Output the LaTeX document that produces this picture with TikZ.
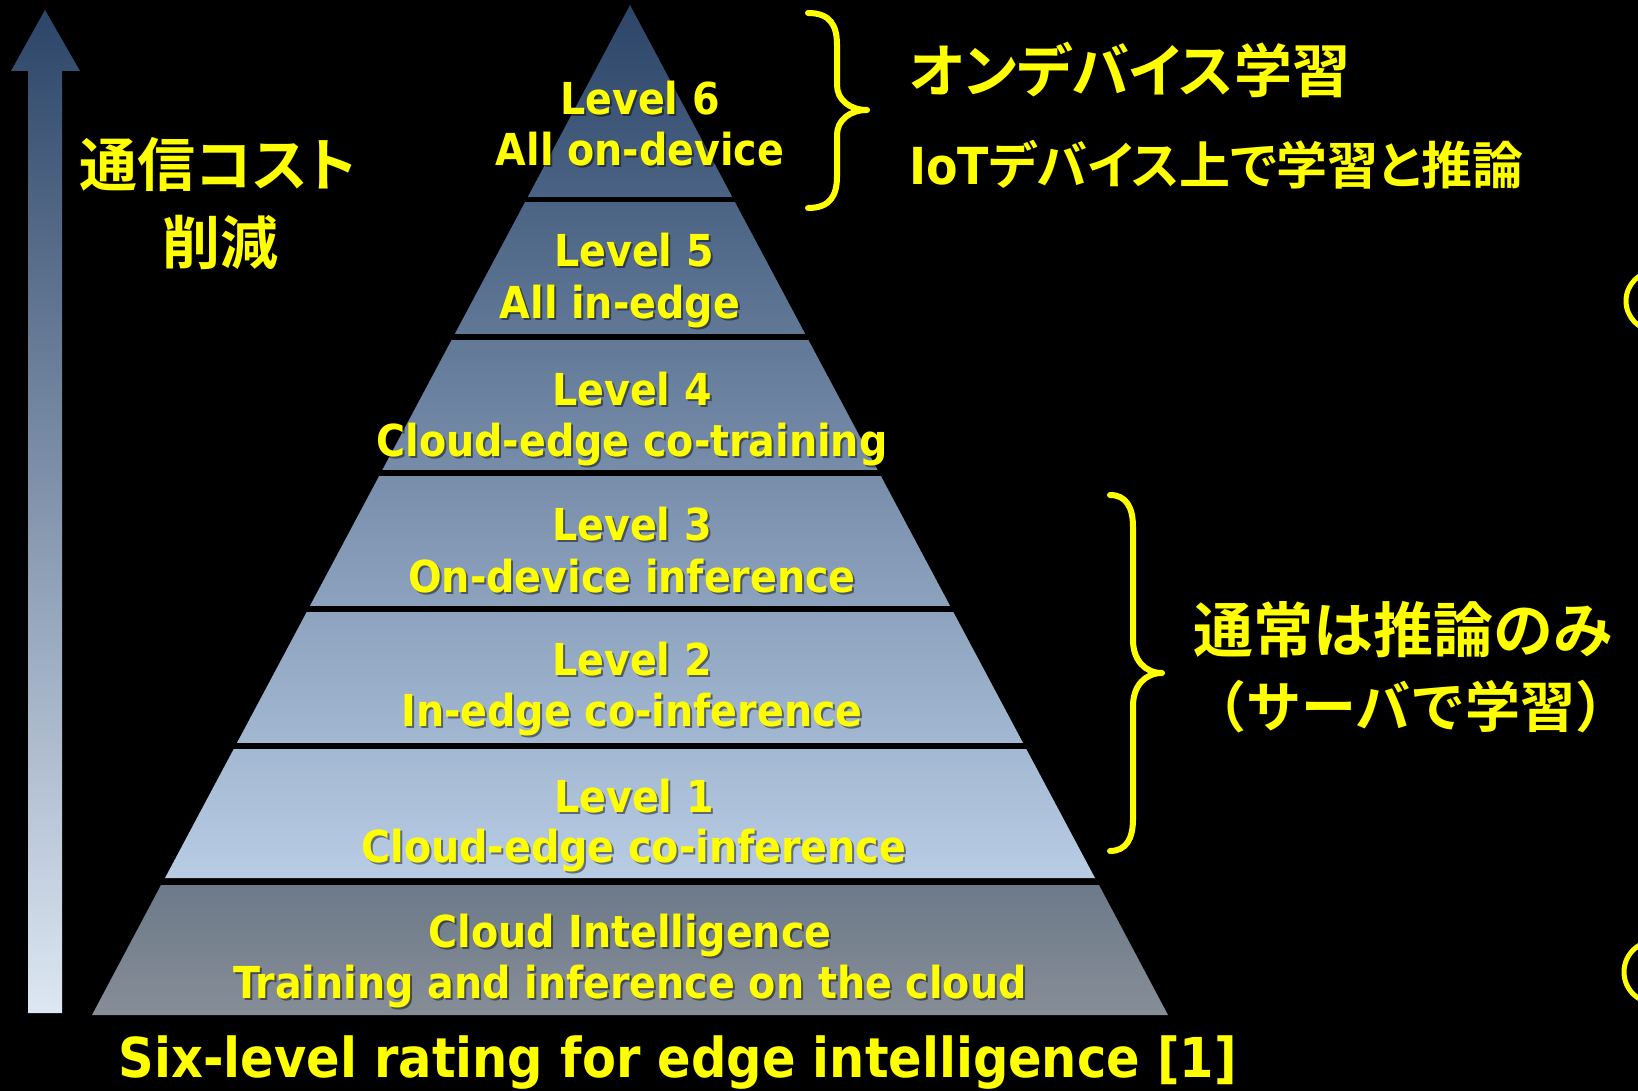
\documentclass[tikz,border=0pt]{standalone}
\usepackage{fontspec}
\newfontfamily\lat{DejaVu Sans Condensed}
\newfontfamily\jp{Noto Sans CJK JP}[BoldFont={Noto Sans CJK JP Bold},RawFeature=+palt]
\newfontfamily\jpf{Noto Sans CJK JP}[BoldFont={Noto Sans CJK JP Bold}]
\definecolor{yel}{HTML}{FFFF00}
\definecolor{pyrtop}{HTML}{2C4568}
\definecolor{pyrbot}{HTML}{B8CCE4}
\definecolor{cloudtop}{HTML}{6D7A89}
\definecolor{cloudbot}{HTML}{868D97}
\definecolor{arrbot}{HTML}{DDE7F3}
\newcommand\lvlabel[5]{%
  \node[lvs,#5] (#1s) at (#2+2,#3+2) {#4};
  \node[lv,#5] (#1) at (#2,#3) {#4};}
\begin{document}
\begin{tikzpicture}[x=1pt,y=-1pt,
  lv/.style={font=\lat\bfseries\fontsize{44}{50}\selectfont, text=yel, inner sep=0pt, text height=32pt, text depth=0pt},
  lvs/.style={lv, text=black, opacity=0.45},
  big/.style={font=\lat\bfseries\fontsize{55}{60}\selectfont},
  jpt/.style={font=\jp\bfseries\fontsize{58}{64}\selectfont, text=yel, inner sep=0pt},
  brace/.style={draw=yel, line width=6pt, line cap=round, line join=round}]
\useasboundingbox (0,0) rectangle (1638,1091);
\fill[black] (0,0) rectangle (1638,1091);
% left arrow
\shade[top color=pyrtop, bottom color=arrbot]
  (45,10) -- (80,71) -- (62,71) -- (62,1013) -- (28,1013) -- (28,71) -- (11,71) -- cycle;
% pyramid levels 1-6
\shade[top color=pyrtop, bottom color=pyrbot] (630,5) -- (1095,878) -- (165,878) -- cycle;
\foreach \ya/\yb in {197/202, 334/340, 470/476, 606/612, 743/749}
  \fill[black] (100,\ya) rectangle (1200,\yb);
% cloud band
\shade[top color=cloudtop, bottom color=cloudbot] (161,885) -- (1099,885) -- (1168,1015) -- (92,1015) -- cycle;
% level labels
\lvlabel{l6a}{640}{99}{Level 6}{}
\lvlabel{l6b}{640}{150}{All on-device}{}
\lvlabel{l5a}{634}{251}{Level 5}{}
\lvlabel{l5b}{620}{302}{All in-edge}{}
\lvlabel{l4a}{632}{389}{Level 4}{}
\lvlabel{l4b}{632}{440}{Cloud-edge co-training}{}
\lvlabel{l3a}{632}{524}{Level 3}{}
\lvlabel{l3b}{632}{576}{On-device inference}{}
\lvlabel{l2a}{632}{659}{Level 2}{}
\lvlabel{l2b}{632}{710}{In-edge co-inference}{}
\lvlabel{l1a}{634}{796}{Level 1}{}
\lvlabel{l1b}{634}{846}{Cloud-edge co-inference}{}
\lvlabel{c0a}{630}{931}{Cloud Intelligence}{}
\lvlabel{c0b}{630}{982}{Training and inference on the cloud}{}
\lvlabel{cap}{678}{1057}{Six-level rating for edge intelligence [1]}{big, text height=40pt}
% left text
\node[jpt] (cost1) at (218,165) {通信コスト};
\node[jpt] (cost2) at (220,242) {削減};
% braces
\draw[brace] (808,13) .. controls (830,13) and (837,25) .. (837,45) -- (837,85)
  .. controls (837,100) and (850,110) .. (867,110)
  .. controls (850,110) and (837,120) .. (837,135) -- (837,176)
  .. controls (837,196) and (830,208) .. (808,208);
\draw[brace] (1110,495) .. controls (1126,495) and (1133,507) .. (1133,527) -- (1133,640)
  .. controls (1133,660) and (1145,673) .. (1162,673)
  .. controls (1145,673) and (1133,686) .. (1133,706) -- (1133,819)
  .. controls (1133,839) and (1126,851) .. (1110,851);
% right texts
\node[jpt, anchor=west] (od1) at (909,70) {オンデバイス学習};
\node[jpt, anchor=west, font=\jp\bfseries\fontsize{51}{56}\selectfont] (od2) at (909,165) {{\lat\bfseries IoT}デバイス上で学習と推論};
\node[jpt, anchor=west, font=\jpf\bfseries\fontsize{60}{66}\selectfont] (inf1) at (1193,630) {通常は推論のみ};
\node[jpt, anchor=west, font=\jpf\bfseries\fontsize{55}{62}\selectfont] (inf2) at (1191,707) {（サーバで学習）};
% partial circles at right edge
\begin{scope}
\clip (0,0) rectangle (1638,1091);
\draw[draw=yel, line width=5pt] (1656,301) circle[radius=30];
\draw[draw=yel, line width=5pt] (1655,972) circle[radius=31];
\end{scope}
\end{tikzpicture}
\end{document}
